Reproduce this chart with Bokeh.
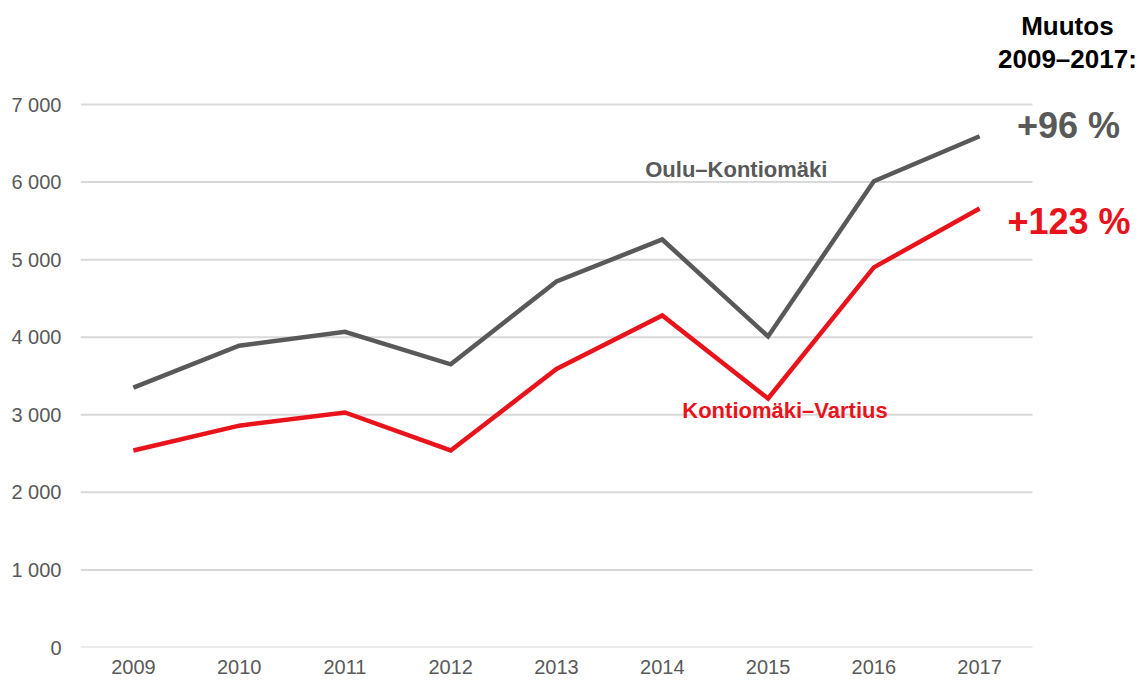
from bokeh.plotting import figure
from bokeh.models import Range1d, FixedTicker, Label, CustomJSTickFormatter
from bokeh.embed import file_html
from bokeh.resources import INLINE

years = [2009, 2010, 2011, 2012, 2013, 2014, 2015, 2016, 2017]
oulu_kontiomaki = [3350, 3890, 4070, 3650, 4720, 5260, 4010, 6010, 6590]
kontiomaki_vartius = [2540, 2860, 3030, 2540, 3590, 4280, 3210, 4900, 5660]
y_ticks = [0, 1000, 2000, 3000, 4000, 5000, 6000, 7000]

GRAY = "#595959"
RED = "#E8131B"
GRID = "#d9d9d9"
FONT = "Liberation Sans"

p = figure(width=1145, height=680, output_backend="svg", toolbar_location=None,
           x_range=Range1d(2008.5, 2018.521), y_range=Range1d(0, 8340.7),
           frame_width=1060, frame_height=647,
           min_border_left=80, min_border_right=5, min_border_top=0, min_border_bottom=33)
p.outline_line_color = None
p.background_fill_color = "white"
p.border_fill_color = "white"

p.xgrid.grid_line_color = None
p.ygrid.grid_line_color = None
p.yaxis.ticker = FixedTicker(ticks=y_ticks)
p.xaxis.ticker = FixedTicker(ticks=years)
p.yaxis.formatter = CustomJSTickFormatter(code="return tick == 0 ? '0' : Math.floor(tick/1000) + ' 000';")
for ax in (p.xaxis, p.yaxis):
    ax.axis_line_color = None
    ax.major_tick_line_color = None
    ax.minor_tick_line_color = None
    ax.major_tick_out = 0
    ax.major_tick_in = 0
    ax.major_label_text_font = FONT
    ax.major_label_text_font_size = "20px"
    ax.major_label_text_color = GRAY
p.xaxis.major_label_standoff = 12
p.yaxis.major_label_standoff = 19

# horizontal gridlines spanning the category area only
p.segment(x0=[years[0] - 0.5] * len(y_ticks), x1=[years[-1] + 0.5] * len(y_ticks),
          y0=y_ticks, y1=y_ticks, line_color=GRID, line_width=2)

p.line(years, oulu_kontiomaki, line_color=GRAY, line_width=4.5, line_join="miter")
p.line(years, kontiomaki_vartius, line_color=RED, line_width=4.5, line_join="miter")

def lab(x, y, text, color, size):
    p.add_layout(Label(x=x, y=y, text=text, text_color=color, text_font=FONT,
                       text_font_size=size, text_font_style="bold",
                       text_align="center", text_baseline="middle"))

lab(2014.70, 6162, "Oulu–Kontiomäki", GRAY, "22px")
lab(2015.16, 3055, "Kontiomäki–Vartius", RED, "22px")
lab(2017.83, 8012, "Muutos", "black", "26px")
lab(2017.83, 7593, "2009–2017:", "black", "26px")
lab(2017.84, 6729, "+96 %", GRAY, "36px")
lab(2017.845, 5492, "+123 %", RED, "36px")

open("out.html", "w").write(file_html(p, INLINE))
